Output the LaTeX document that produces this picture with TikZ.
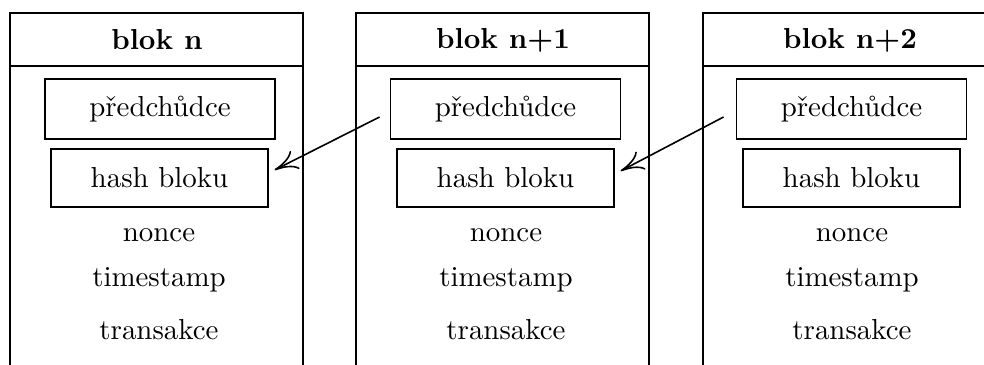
\documentclass[tikz,border=0pt]{standalone}
\usetikzlibrary{arrows.meta}
\begin{document}
\begin{tikzpicture}[x=0.3459pt,y=-0.3459pt,
  frame/.style={line width=0.6pt},
  fieldbox/.style={draw,line width=0.6pt,rectangle,inner sep=0pt,anchor=center},
  predbox/.style={fieldbox,minimum width=79.6pt,minimum height=20.75pt},
  hashbox/.style={fieldbox,minimum width=74.9pt,minimum height=20.1pt},
  head/.style={font=\bfseries,anchor=center},
  plain/.style={anchor=base,inner sep=0pt},
  link/.style={-{To[length=8pt,width=7pt]},line width=0.55pt}]
\useasboundingbox (0,0) rectangle (984,365);
\clip (0,0) rectangle (984,365);
% block frames (open at the bottom)
\foreach \l/\r in {10/303, 356/649, 703/996}{
  \draw[frame] (\l,366) -- (\l,13) -- (\r,13) -- (\r,366);
  \draw[frame] (\l,66) -- (\r,66);
}
% headers
\node[head] (b1) at (157,40) {blok n};
\node[head] (b2) at (503,40) {blok n+1};
\node[head] (b3) at (850,40) {blok n+2};
% block n
\node[predbox] (p1) at (160,109) {předchůdce};
\node[hashbox] (h1) at (159.5,178) {hash bloku};
\node[plain] (n1) at (159,242) {nonce};
\node[plain] (t1) at (159,287) {timestamp};
\node[plain] (x1) at (159,340) {transakce};
% block n+1
\node[predbox] (p2) at (505.5,109) {předchůdce};
\node[hashbox] (h2) at (505.5,178) {hash bloku};
\node[plain] (n2) at (506,242) {nonce};
\node[plain] (t2) at (506,287) {timestamp};
\node[plain] (x2) at (506,340) {transakce};
% block n+2
\node[predbox] (p3) at (851.5,109) {předchůdce};
\node[hashbox] (h3) at (851.5,178) {hash bloku};
\node[plain] (n3) at (852,242) {nonce};
\node[plain] (t3) at (852,287) {timestamp};
\node[plain] (x3) at (852,340) {transakce};
% links
\draw[link] ([shift={(-10,8)}]p2.west) -- ([shift={(6,-8)}]h1.east);
\draw[link] ([shift={(-12,8)}]p3.west) -- ([shift={(6,-7)}]h2.east);
\end{tikzpicture}
\end{document}
